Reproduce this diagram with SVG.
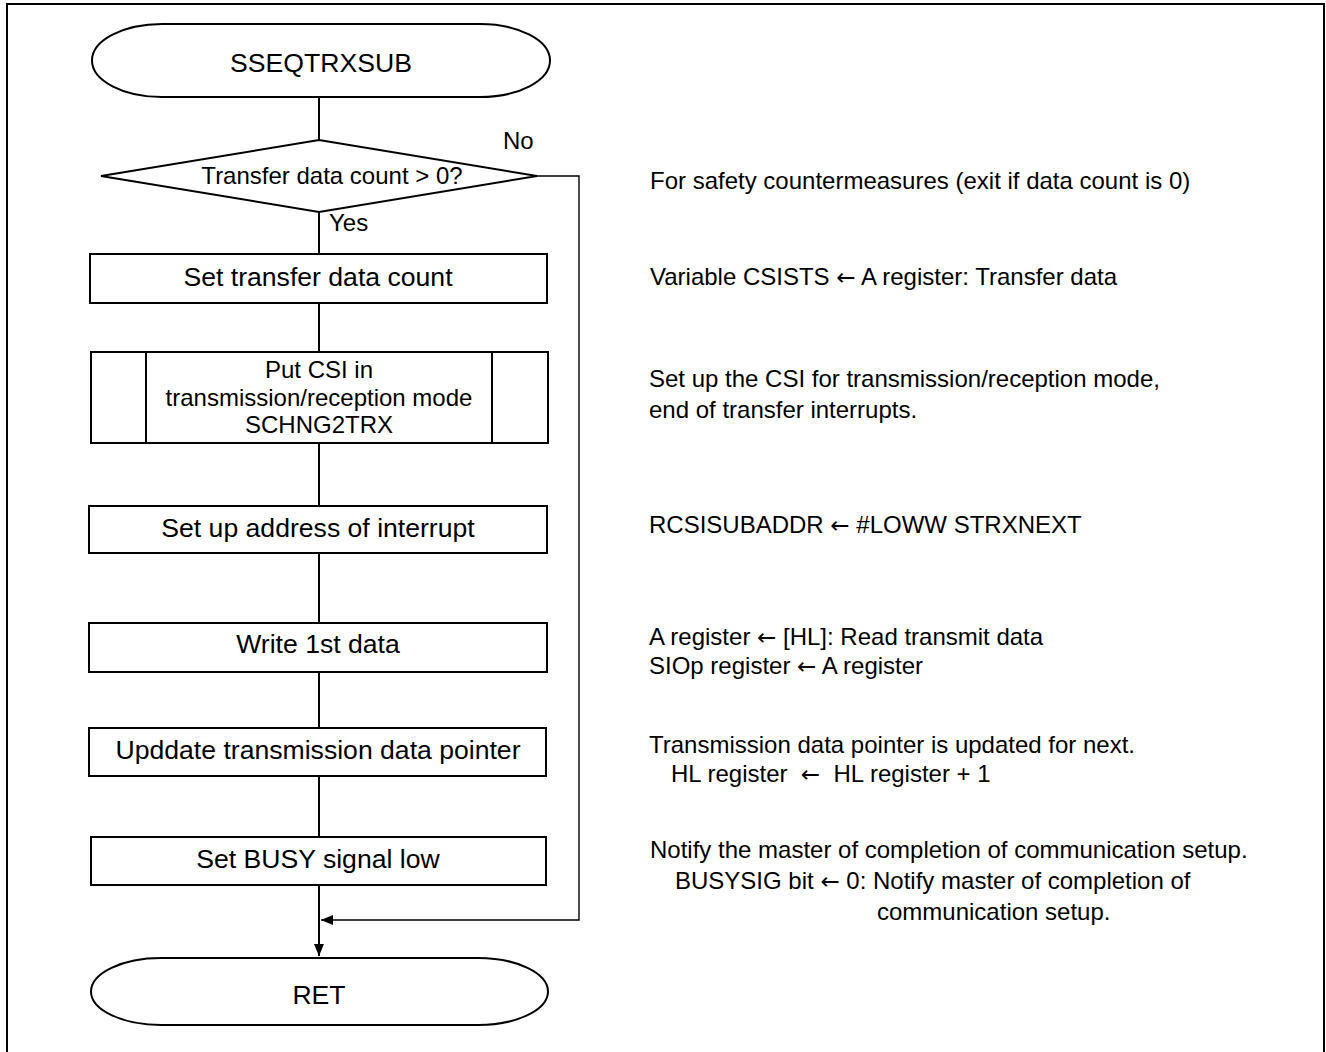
<svg xmlns="http://www.w3.org/2000/svg" width="1326" height="1052" viewBox="0 0 1326 1052">
<style>
.shape{fill:#fff;stroke:#000;stroke-width:2}
.line{fill:none;stroke:#000;stroke-width:2}
.thin{fill:none;stroke:#000;stroke-width:1.4}
text{font-family:"Liberation Sans",Arial,sans-serif;fill:#000}
.big{font-size:26.6px;text-anchor:middle}
.mid{font-size:24px;text-anchor:middle}
.lbl{font-size:24px}
.note{font-size:24px;white-space:pre}
.ar{font-family:"DejaVu Sans",sans-serif;font-size:23px}
</style>
<defs>
<marker id="arr" markerWidth="14" markerHeight="12" refX="12" refY="6" orient="auto" markerUnits="userSpaceOnUse">
<path d="M0,1 L12,6 L0,11 Z" fill="#000"/>
</marker>
</defs>
<rect x="7" y="4" width="1317" height="1060" fill="none" stroke="#000" stroke-width="2"/>
<g id="connectors">
<line class="line" x1="319" y1="97" x2="319" y2="140"/>
<line class="line" x1="319" y1="212" x2="319" y2="254"/>
<line class="line" x1="319" y1="303" x2="319" y2="352"/>
<line class="line" x1="319" y1="443" x2="319" y2="506"/>
<line class="line" x1="319" y1="553" x2="319" y2="623"/>
<line class="line" x1="319" y1="672" x2="319" y2="728"/>
<line class="line" x1="319" y1="776" x2="319" y2="837"/>
<line class="line" x1="319" y1="885" x2="319" y2="956" marker-end="url(#arr)"/>
<polyline class="thin" points="537,176 579,176 579,920 321,920" marker-end="url(#arr)"/>
<text class="lbl" x="503" y="149">No</text>
<text class="lbl" x="329" y="231">Yes</text>
</g>
<g id="start">
<rect class="shape" x="92" y="24" width="458" height="73" rx="70" ry="36.5"/>
<text class="big" x="321" y="72">SSEQTRXSUB</text>
</g>
<g id="decision">
<polygon class="shape" points="101,176 319,140 537,176 319,212"/>
<text class="mid" x="332" y="184">Transfer data count &gt; 0?</text>
</g>
<g id="set-count">
<rect class="shape" x="90" y="254" width="457" height="49"/>
<text class="big" x="318" y="286">Set transfer data count</text>
</g>
<g id="schng2trx">
<rect class="shape" x="91" y="352" width="457" height="91"/>
<line class="line" x1="146" y1="352" x2="146" y2="443"/>
<line class="line" x1="492" y1="352" x2="492" y2="443"/>
<text class="mid" x="319" y="378">Put CSI in</text>
<text class="mid" x="319" y="406">transmission/reception mode</text>
<text class="mid" x="319" y="433">SCHNG2TRX</text>
</g>
<g id="set-addr">
<rect class="shape" x="89" y="506" width="458" height="47"/>
<text class="big" x="318" y="537">Set up address of interrupt</text>
</g>
<g id="write-data">
<rect class="shape" x="89" y="623" width="458" height="49"/>
<text class="big" x="318" y="653">Write 1st data</text>
</g>
<g id="update-ptr">
<rect class="shape" x="89" y="728" width="457" height="48"/>
<text class="big" x="318" y="759">Upddate transmission data pointer</text>
</g>
<g id="busy-low">
<rect class="shape" x="91" y="837" width="455" height="48"/>
<text class="big" x="318" y="868">Set BUSY signal low</text>
</g>
<g id="ret">
<rect class="shape" x="91" y="958" width="457" height="67" rx="70" ry="33.5"/>
<text class="big" x="319" y="1004">RET</text>
</g>
<g id="notes">
<text class="note" x="650" y="189">For safety countermeasures (exit if data count is 0)</text>
<text class="note" x="650" y="285">Variable CSISTS <tspan class="ar">←</tspan> A register: Transfer data</text>
<text class="note" x="649" y="387">Set up the CSI for transmission/reception mode,</text>
<text class="note" x="649" y="418">end of transfer interrupts.</text>
<text class="note" x="649" y="533">RCSISUBADDR <tspan class="ar">←</tspan> #LOWW STRXNEXT</text>
<text class="note" x="649" y="645">A register <tspan class="ar">←</tspan> [HL]: Read transmit data</text>
<text class="note" x="649" y="674">SIOp register <tspan class="ar">←</tspan> A register</text>
<text class="note" x="649" y="753">Transmission data pointer is updated for next.</text>
<text class="note" x="671" y="782">HL register  <tspan class="ar">←</tspan>  HL register + 1</text>
<text class="note" x="650" y="858">Notify the master of completion of communication setup.</text>
<text class="note" x="675" y="889">BUSYSIG bit <tspan class="ar">←</tspan> 0: Notify master of completion of</text>
<text class="note" x="877" y="920">communication setup.</text>
</g>
</svg>
